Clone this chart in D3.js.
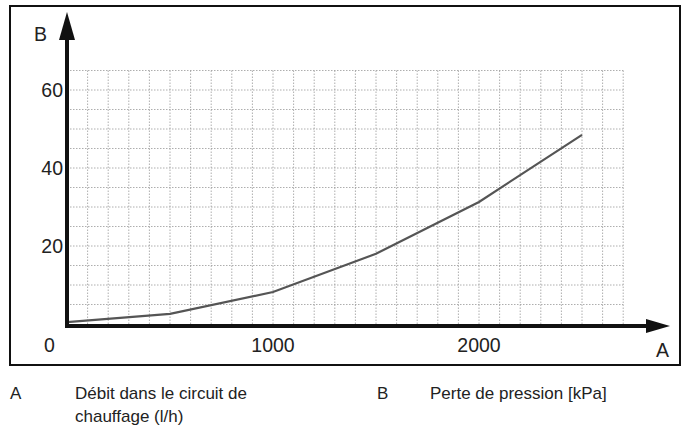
<!DOCTYPE html>
<html><head><meta charset="utf-8">
<script src="https://cdn.jsdelivr.net/npm/d3@7"></script>
<style>body{margin:0;background:#fff}text{font-family:"Liberation Sans",Arial,sans-serif;fill:#222}</style>
</head><body><svg id="chart" width="684" height="440"></svg>
<script>
const flow = [0, 500, 1000, 1500, 2000, 2500];
const loss = [0.5, 2.6, 8.2, 18, 31.3, 48.5];
const xTicks = [1000, 2000];
const yTicks = [20, 40, 60];

const svg = d3.select("#chart");
const x = d3.scaleLinear().domain([0, 1000]).range([67, 273]);
const y = d3.scaleLinear().domain([0, 20]).range([324, 246]);

svg.append("rect").attr("x", 10).attr("y", 6).attr("width", 670).attr("height", 359)
  .attr("fill", "none").attr("stroke", "#111").attr("stroke-width", 2);

const g = svg.append("g");
d3.range(100, 2701, 100).forEach(v => g.append("line")
  .attr("x1", x(v)).attr("x2", x(v)).attr("y1", y(65)).attr("y2", y(0))
  .attr("stroke", "#999").attr("stroke-dasharray", "1.5,1.5").attr("stroke-width", 0.8));
d3.range(5, 66, 5).forEach(v => g.append("line")
  .attr("x1", x(0)).attr("x2", x(2700)).attr("y1", y(v)).attr("y2", y(v))
  .attr("stroke", "#999").attr("stroke-dasharray", "1.5,1.5").attr("stroke-width", 0.8));

svg.append("path")
  .attr("d", d3.line().x((d, i) => x(flow[i])).y(d => y(d))(loss))
  .attr("fill", "none").attr("stroke", "#555").attr("stroke-width", 2.2);

// axes
svg.append("line").attr("x1", x(0)).attr("x2", 648).attr("y1", 326).attr("y2", 326)
  .attr("stroke", "#111").attr("stroke-width", 4);
svg.append("path").attr("d", "M646,319 L670,326 L646,333 Z").attr("fill", "#111");
svg.append("line").attr("x1", x(0)).attr("x2", x(0)).attr("y1", 328).attr("y2", 35)
  .attr("stroke", "#111").attr("stroke-width", 4);
svg.append("path").attr("d", `M${x(0)-8},40 L${x(0)},12 L${x(0)+8},40 Z`).attr("fill", "#111");

xTicks.forEach(v => svg.append("text").attr("x", x(v)).attr("y", 352)
  .attr("text-anchor", "middle").attr("font-size", 19.5).text(v));
yTicks.forEach(v => svg.append("text").attr("x", 63).attr("y", y(v) + 7)
  .attr("text-anchor", "end").attr("font-size", 19.5).text(v));
svg.append("text").attr("x", 44).attr("y", 352).attr("font-size", 19.5).text("0");
svg.append("text").attr("x", 34).attr("y", 41).attr("font-size", 19.5).text("B");
svg.append("text").attr("x", 656).attr("y", 357).attr("font-size", 19.5).text("A");

const leg = svg.append("g");
leg.append("text").attr("x", 10).attr("y", 399).attr("font-size", 17).text("A");
leg.append("text").attr("x", 75).attr("y", 399).attr("font-size", 17).text("Débit dans le circuit de");
leg.append("text").attr("x", 75).attr("y", 422).attr("font-size", 17).text("chauffage (l/h)");
leg.append("text").attr("x", 377).attr("y", 399).attr("font-size", 17).text("B");
leg.append("text").attr("x", 430).attr("y", 399).attr("font-size", 17).text("Perte de pression [kPa]");
</script></body></html>
